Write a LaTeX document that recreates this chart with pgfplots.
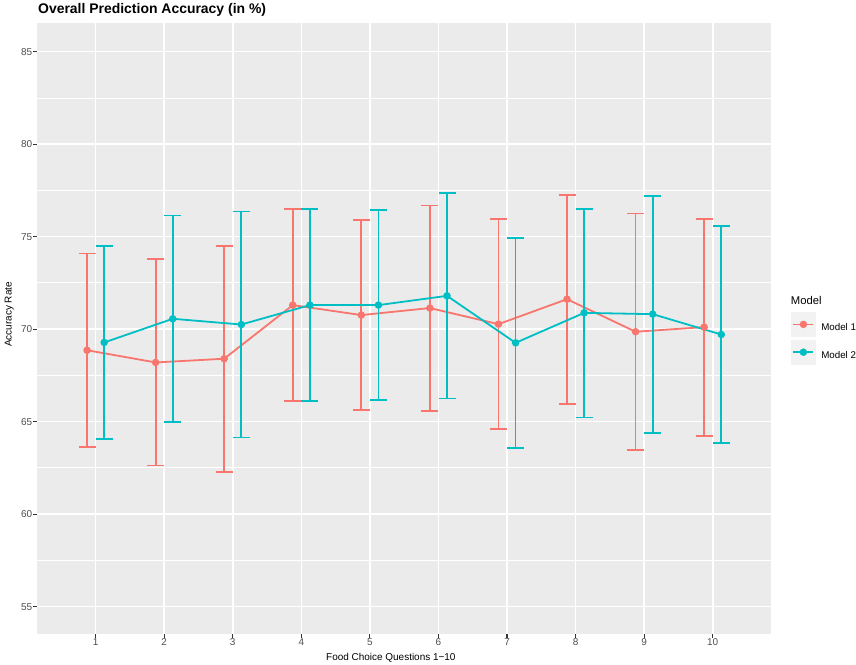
\documentclass[border=0pt]{standalone}
\usepackage{fontspec}
\setmainfont{Liberation Sans}
\usepackage{pgfplots}
\usepackage{pgfplotstable}
\pgfplotsset{compat=1.18}
\definecolor{mone}{HTML}{F8766D}
\definecolor{mtwo}{HTML}{00BFC4}
\definecolor{panel}{HTML}{EBEBEB}
\definecolor{keybg}{HTML}{F2F2F2}
\definecolor{grtick}{HTML}{333333}
\definecolor{grlab}{HTML}{4D4D4D}

\pgfplotstableread{
x y lo hi
0.875 68.86 63.64 74.09
1.875 68.20 62.63 73.78
2.875 68.40 62.29 74.50
3.875 71.30 66.12 76.49
4.875 70.76 65.62 75.89
5.875 71.14 65.59 76.68
6.875 70.27 64.61 75.96
7.875 71.62 65.96 77.26
8.875 69.86 63.46 76.25
9.875 70.11 64.23 75.96
}\dataA

\pgfplotstableread{
x y lo hi
1.125 69.28 64.07 74.50
2.125 70.56 64.99 76.14
3.125 70.25 64.14 76.36
4.125 71.30 66.12 76.49
5.125 71.30 66.16 76.42
6.125 71.80 66.25 77.37
7.125 69.26 63.58 74.94
8.125 70.88 65.22 76.51
9.125 70.81 64.40 77.20
10.125 69.71 63.85 75.58
}\dataB

\begin{document}
\begin{tikzpicture}
\useasboundingbox (0bp,0bp) rectangle (856bp,665bp);
\begin{axis}[
  at={(37bp,31bp)}, anchor=south west,
  width=734bp, height=611bp, scale only axis,
  xmin=0.145, xmax=10.85, ymin=53.52, ymax=86.55,
  axis background/.style={fill=panel},
  axis line style={draw=none},
  xtick={1,...,10},
  ytick={55,60,...,85},
  minor ytick={57.5,62.5,...,82.5},
  grid=both,
  major grid style={white, line width=1.6bp},
  minor grid style={white, line width=0.8bp},
  tick align=outside, tick pos=left,
  major tick length=3.6bp, minor tick length=0pt,
  tick style={grtick, line width=1.2bp},
  /pgf/number format/assume math mode=true,
  ticklabel style={font=\fontsize{10}{12}\selectfont, text=grlab},
  xticklabel style={inner sep=1.2bp},
  yticklabel style={inner sep=1bp},
  error bars/y dir=both,
  error bars/y explicit,
  error bars/error mark=-,
  legend style={draw=none, fill=none, inner sep=0pt, outer sep=0pt,
    at={(1.02725,0.527)}, anchor=north west, row sep=3bp,
    font=\fontsize{9.8}{11}\selectfont,
    nodes={inner sep=0pt},
    /tikz/every odd column/.append style={column sep=5.5bp}},
  legend cell align=left,
  legend image code/.code={
    \fill[keybg] (0bp,-8.2bp) rectangle (23bp,14.8bp);
    \draw[#1, mark=none] (1.5bp,3.3bp) -- (21.5bp,3.3bp);
    \draw[#1, only marks] plot coordinates {(11.5bp,3.3bp)};
  },
]
\addplot[mone, line width=1.8bp, mark=*, mark size=2.8bp, mark options={solid, fill=mone, draw=mone},
  error bars/error bar style={line width=1.8bp, mone},
  error bars/error mark options={rotate=90, mark size=8.5bp, line width=1.8bp, mone}]
  table[x=x, y=y, y error plus expr=\thisrow{hi}-\thisrow{y}, y error minus expr=\thisrow{y}-\thisrow{lo}] {\dataA};
\addlegendentry{Model 1}
\addplot[mtwo, line width=1.8bp, mark=*, mark size=2.8bp, mark options={solid, fill=mtwo, draw=mtwo},
  error bars/error bar style={line width=1.8bp, mtwo},
  error bars/error mark options={rotate=90, mark size=8.5bp, line width=1.8bp, mtwo}]
  table[x=x, y=y, y error plus expr=\thisrow{hi}-\thisrow{y}, y error minus expr=\thisrow{y}-\thisrow{lo}] {\dataB};
\addlegendentry{Model 2}
\end{axis}
\node[anchor=base west, font=\bfseries\fontsize{14}{16}\selectfont, inner sep=0pt] at (38bp,651.5bp) {Overall Prediction Accuracy (in \%)};
\node[anchor=base west, font=\fontsize{10}{12}\selectfont, inner sep=0pt] at (326bp,4.3bp) {Food Choice Questions 1−10};
\node[anchor=base west, rotate=90, font=\fontsize{10}{12}\selectfont, inner sep=0pt] at (11.5bp,318bp) {Accuracy Rate};
\node[anchor=base west, font=\fontsize{11.3}{13}\selectfont, inner sep=0pt] at (790.7bp,360bp) {Model};
\end{tikzpicture}
\end{document}
